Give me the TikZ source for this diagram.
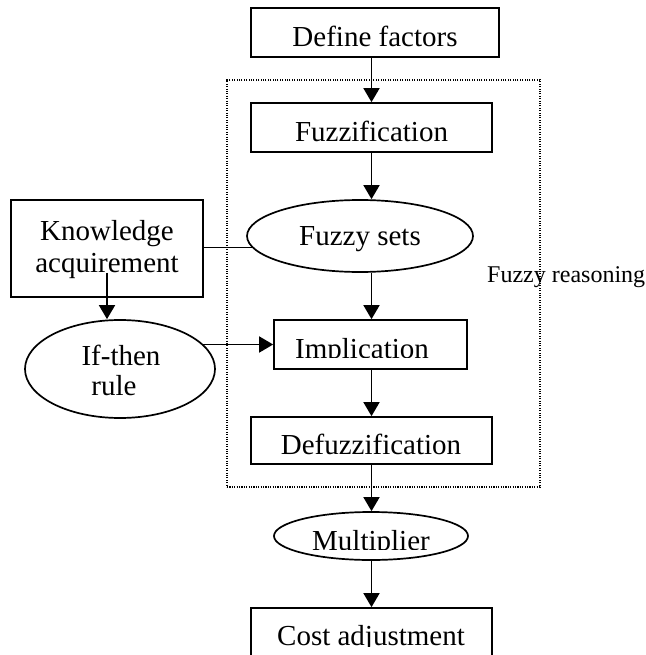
\documentclass[tikz,border=0pt]{standalone}
\usepackage{fontspec}
\setmainfont{Liberation Serif}
\usetikzlibrary{arrows.meta,shapes.geometric}
\begin{document}
\begin{tikzpicture}[x=1pt,y=-1pt,
  shp/.style={draw, line width=1.7pt, inner sep=0pt, fill=white},
  boxshape/.style={shp, rectangle},
  ellshape/.style={shp, ellipse},
  txt/.style={inner sep=0pt, anchor=base, font=\fontsize{29}{31}\selectfont},
  arr/.style={line width=1.7pt, -{Triangle[length=14pt,width=16pt]}},
  conn/.style={line width=1.7pt},
  region/.style={draw, line width=1.1pt, dash pattern=on 1.1pt off 1.3pt, inner sep=0pt}
]
\useasboundingbox (0,0) rectangle (645,655);
\clip (0,0) rectangle (645,655);

% dotted region
\node[region, minimum width=313pt, minimum height=407pt] (reg) at (383.5,283.5) {};

% shapes
\node[boxshape, minimum width=248pt, minimum height=49pt] (def) at (375,32.5) {};
\node[boxshape, minimum width=241pt, minimum height=49pt] (fuz) at (371.5,127.5) {};
\node[ellshape, minimum width=226pt, minimum height=72pt] (fset) at (360,236) {};
\node[boxshape, minimum width=193pt, minimum height=49pt] (imp) at (370.5,344.5) {};
\node[boxshape, minimum width=241pt, minimum height=47pt] (defz) at (371.5,440.5) {};
\node[ellshape, minimum width=194pt, minimum height=48pt] (mul) at (371,536) {};
\node[boxshape, minimum width=241pt, minimum height=49pt] (cost) at (371.5,632.5) {};
\node[boxshape, minimum width=192pt, minimum height=97pt] (know) at (107,248.5) {};
\node[ellshape, minimum width=190pt, minimum height=98pt] (ifr) at (120,369) {};

% connectors
\draw[arr] (fuz.north |- def.south) -- (fuz.north);
\draw[arr] (fuz.south) -- (fuz.south |- fset.north);
\draw[arr] (fuz.south |- fset.south) -- (fuz.south |- imp.north);
\draw[arr] (imp.south -| defz.north) -- (defz.north);
\draw[arr] (defz.south) -- (defz.south |- mul.north);
\draw[arr] (defz.south |- mul.south) -- (defz.south |- cost.north);
\draw[conn] (know.east |- fset.186) -- (fset.186);
\draw[arr] ([yshift=25pt]know.south) -- (know.south |- ifr.north);
\draw[arr] (imp.west -| ifr.17) -- (imp.west);

% texts
\node[txt] (deft) at (375,47) {Define factors};
\node[txt] (fuzt) at (371.5,142) {Fuzzification};
\node[txt] (fsett) at (360,245) {Fuzzy sets};
\node[txt] (knowa) at (107,240) {Knowledge};
\node[txt] (knowb) at (107,272) {acquirement};
\node[txt] (ifa) at (121,365) {If-then};
\node[txt] (ifb) at (114,395) {rule};
\begin{scope}
  \clip (imp.north west) rectangle (467,357);
  \node[txt] (impt) at (362,358) {Implication};
\end{scope}
\node[txt] (defzt) at (371,454) {Defuzzification};
\begin{scope}
  \clip (270,505) rectangle (470,549);
  \node[txt] (mult) at (371,550) {Multiplier};
\end{scope}
\begin{scope}
  \clip (255,610) rectangle (490,646);
  \node[txt] (costt) at (371,645) {Cost adjustment};
\end{scope}
\node[inner sep=0pt, anchor=base west, font=\fontsize{24}{26}\selectfont] (lbl) at (487,282) {Fuzzy reasoning};
\end{tikzpicture}
\end{document}
